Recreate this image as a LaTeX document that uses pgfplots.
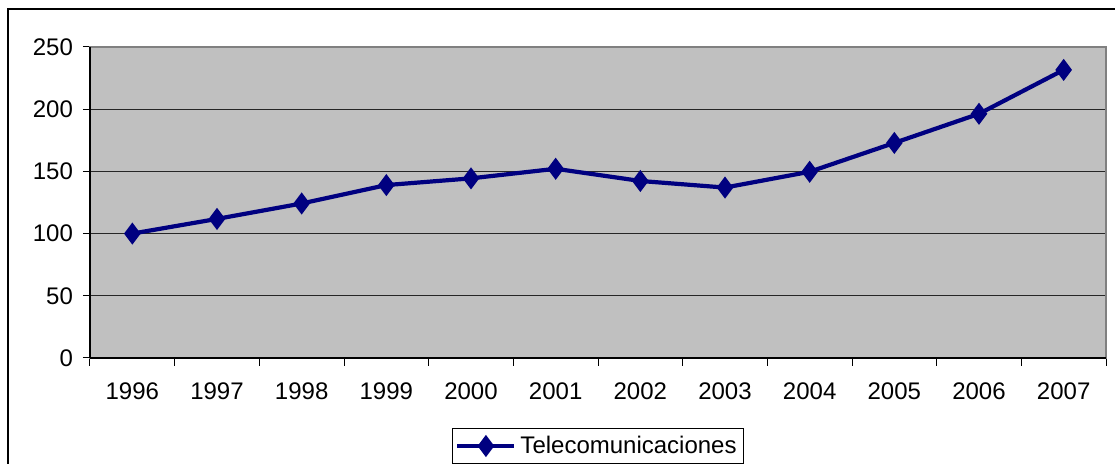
\documentclass[border=0pt]{standalone}
\usepackage{pgfplots}
\pgfplotsset{compat=1.18}
\usepackage{fontspec}
\setmainfont{Liberation Sans}
\definecolor{navy}{HTML}{000080}
\definecolor{plotbg}{HTML}{C0C0C0}
\begin{document}
\begin{tikzpicture}[x=1pt,y=1pt]
\useasboundingbox (0,0) rectangle (557.5,232);
\begin{scope}
\clip (0,0) rectangle (557.5,232);
\draw[black, line width=0.8pt] (4,-10) rectangle (570,227.5);
\end{scope}
\begin{axis}[
  at={(45pt,53pt)}, anchor=south west,
  scale only axis, width=508pt, height=155.5pt,
  xmin=-0.5, xmax=11.5, ymin=0, ymax=250,
  axis background/.style={fill=plotbg},
  xtick={0,...,11},
  xticklabels={1996,1997,1998,1999,2000,2001,2002,2003,2004,2005,2006,2007},
  minor xtick={-0.5,0.5,...,11.5},
  ytick={0,50,...,250},
  xtick pos=bottom, ytick pos=left,
  major x tick style={draw=none},
  minor x tick style={black, line width=0.5pt},
  minor tick length=4pt,
  major tick length=3.5pt,
  tick align=outside,
  ymajorgrids, major grid style={black!85, line width=0.5pt},
  y tick style={black, line width=0.5pt},
  axis line style={black!50, line width=0.6pt},
  xticklabel style={font=\fontsize{12}{14}\selectfont, yshift=-5.5pt},
  yticklabel style={font=\fontsize{12}{14}\selectfont, xshift=-1.5pt},
  /pgf/number format/assume math mode=true,
  legend style={at={(0.5,-0.283)}, anchor=center, draw=black, fill=white,
    font=\fontsize{12}{14}\selectfont, inner sep=1.5pt, row sep=0pt,
    /tikz/every even column/.append style={column sep=1pt}},
  legend image code/.code={\draw[mark repeat=2,mark phase=2] plot coordinates {(0cm,0cm) (0.5cm,0cm) (1cm,0cm)};},
  clip=false,
]
\addplot[navy, line width=2.1pt, mark=diamond*, mark size=3.8pt, mark options={solid, fill=navy}]
  coordinates {(0,100) (1,111.8) (2,124.2) (3,139.0) (4,144.4) (5,152.1) (6,142.3) (7,137.0) (8,149.7) (9,172.9) (10,196.3) (11,231.6)};
\addlegendentry{Telecomunicaciones}
\draw[black, line width=0.7pt] (axis cs:-0.5,0) -- (axis cs:-0.5,250);
\draw[black, line width=0.7pt] (axis cs:-0.5,0) -- (axis cs:11.5,0);
\end{axis}
\end{tikzpicture}
\end{document}
